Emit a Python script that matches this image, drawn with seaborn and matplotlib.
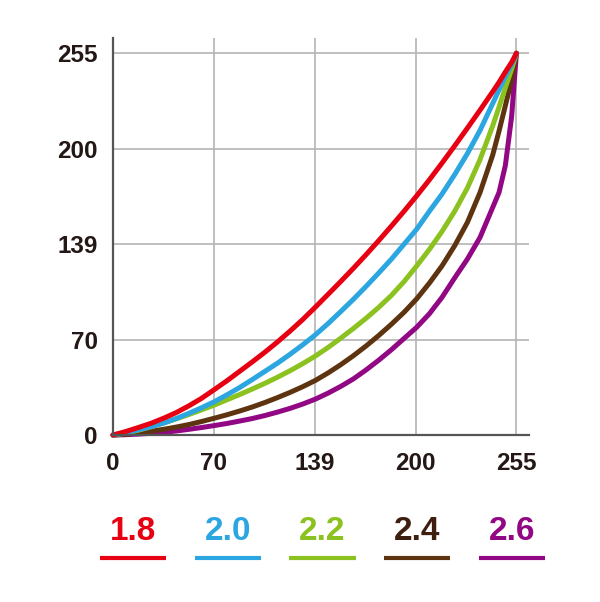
import numpy as np
import pandas as pd
import matplotlib.pyplot as plt
import seaborn as sns

# values (position scale 0..255 on both axes)
x = [0, 8, 16, 24, 32, 40, 48, 56, 64, 72, 80, 88, 96, 104, 112, 120, 128,
     136, 144, 152, 160, 168, 176, 184, 192, 200, 208, 216, 224, 232, 240,
     244, 248, 252, 255]
g18 = [0, 2.3, 5, 7.8, 11.2, 15, 19.5, 24.5, 30.3, 36.2, 42.5, 48.8, 55.3, 62.2, 69.5, 77.2, 85.5,
       94, 102.6, 111.4, 120.5, 129.9, 139.6, 149.5, 159.8, 170.5, 181.7, 193.2, 205, 217, 229.3,
       235.6, 242.5, 249, 255]
g20 = [0, 1.5, 3.5, 5.5, 8, 11, 14.5, 18.2, 22.2, 26.8, 31.7, 37, 42.5, 48, 54, 60.3, 67,
       74.5, 82.5, 90.7, 99.3, 108.3, 117.5, 127.5, 137.5, 149.5, 161, 174, 188, 203.5, 221.5,
       230.5, 239.5, 247.5, 255]
g22 = [0, 1.3, 3.2, 5.5, 8, 10.8, 13.7, 16.8, 20, 23.5, 27, 30.7, 34.5, 38.6, 43, 47.7, 52.8,
       58.5, 64.7, 71.2, 78, 85.3, 93.3, 102.5, 113, 124, 136, 149.5, 165, 184, 206.5,
       219, 232, 244.5, 255]
g24 = [0, 0.5, 1.3, 2.5, 3.8, 5.3, 7, 9, 11.2, 13.5, 16, 18.7, 21.7, 25, 28.5, 32.3, 36.5,
       41.5, 47, 53, 59.5, 66.5, 74, 82, 91, 101.5, 113, 126.5, 142, 162, 187,
       203, 220, 237.5, 255]
g26 = [0, 0.2, 0.6, 1.1, 1.8, 2.7, 3.8, 5, 6.3, 7.7, 9.3, 11, 13, 15.3, 17.8, 20.7, 24,
       28, 32.5, 37.5, 43.5, 50, 57, 64.5, 72, 81, 92, 105, 117.5, 132, 152,
       162, 180, 213, 255]

gammas = ["1.8", "2.0", "2.2", "2.4", "2.6"]
line_colors = ["#e60012", "#2ca6e0", "#8cc220", "#5e3410", "#920783"]
text_colors = ["#e60012", "#2ca6e0", "#8cc220", "#3d1e0f", "#920783"]

tick_pos = [0, 63.75, 127.5, 191.25, 255]
tick_labels = ["0", "70", "139", "200", "255"]

df = pd.DataFrame({
    "x": x * 5,
    "y": g18 + g20 + g22 + g24 + g26,
    "gamma": [g for g in gammas for _ in x],
})

sns.set_style("white")
plt.rcParams["font.family"] = ["Liberation Sans", "DejaVu Sans"]

fig = plt.figure(figsize=(6, 6.02), dpi=100)
ax = fig.add_axes([0.1883, 0.2774, 0.6935, 0.659])

sns.lineplot(data=df, x="x", y="y", hue="gamma",
             hue_order=gammas[::-1],
             palette=dict(zip(gammas, line_colors)),
             linewidth=3.6, legend=False, ax=ax, clip_on=False)

ax.set_xlim(0, 263)
ax.set_ylim(0, 265)
ax.set_xticks(tick_pos)
ax.set_xticklabels(tick_labels)
ax.set_yticks(tick_pos)
ax.set_yticklabels(tick_labels)
ax.set_xlabel("")
ax.set_ylabel("")
ax.grid(True, color="#b4b4b4", linewidth=1.2)
ax.set_axisbelow(True)
for s in ["top", "right"]:
    ax.spines[s].set_visible(False)
for s in ["left", "bottom"]:
    ax.spines[s].set_color("#555555")
    ax.spines[s].set_linewidth(1.6)
ax.tick_params(axis="both", length=0, labelsize=17.5, colors="#231815")
ax.tick_params(axis="x", pad=12)
ax.tick_params(axis="y", pad=11)
for lab in ax.get_xticklabels() + ax.get_yticklabels():
    lab.set_fontweight("bold")

# legend: label above a short coloured bar
lax = fig.add_axes([85.6 / 600, 32 / 602, 473.8 / 600, 65 / 602])
lax.set_xlim(-0.5, 4.5)
lax.set_ylim(0, 1)
lax.axis("off")
for i, (g, lc, tc) in enumerate(zip(gammas, line_colors, text_colors)):
    lax.hlines(0.185, i - 0.35, i + 0.35, color=lc, linewidth=3)
    lax.text(i, 0.6, g, color=tc, fontsize=24, fontweight="bold",
             ha="center", va="center")

plt.savefig("out.png", dpi=100)
